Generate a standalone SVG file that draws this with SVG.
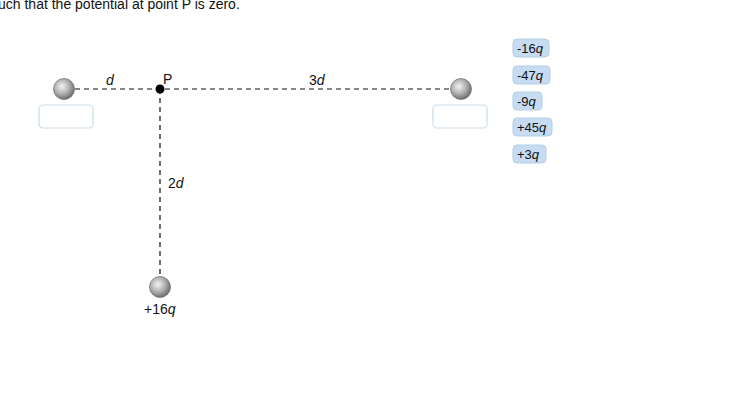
<svg xmlns="http://www.w3.org/2000/svg" width="756" height="408" viewBox="0 0 756 408">
<style>
text{font-family:"Liberation Sans",Arial,sans-serif;font-size:14px;fill:#111}
.d{stroke:#111;stroke-width:1.2;stroke-dasharray:5,4;fill:none}
.box{fill:#fff;stroke:#c9dcea;stroke-width:1.2}
.chip{fill:#c7dcf2;stroke:#b3cde8}
.ball{fill:url(#g);stroke:#777;stroke-width:0.8}
</style>
<defs><radialGradient id="g" cx="0.4" cy="0.38" r="0.65"><stop offset="0" stop-color="#f4f4f4"/><stop offset="0.6" stop-color="#a8a8a8"/><stop offset="1" stop-color="#666"/></radialGradient></defs>
<rect width="756" height="408" fill="#fff"/>
<text x="-2" y="9">uch that the potential at point P is zero.</text>
<g id="connectors">
<line class="d" x1="75" y1="89" x2="450" y2="89"/>
<line class="d" x1="160" y1="89" x2="160" y2="276"/>
</g>
<text x="106" y="85"><tspan font-style="italic">d</tspan></text>
<text x="309" y="85">3<tspan font-style="italic">d</tspan></text>
<text x="168" y="188">2<tspan font-style="italic">d</tspan></text>
<g id="P"><circle cx="160" cy="89" r="4.5" fill="#000"/><text x="163" y="84">P</text></g>
<g id="q1"><circle class="ball" cx="64" cy="89" r="10.5"/><rect class="box" x="39" y="105" width="54" height="23" rx="4"/></g>
<g id="q2"><circle class="ball" cx="461" cy="89" r="10.5"/><rect class="box" x="433" y="105" width="54" height="23" rx="4"/></g>
<g id="q3"><circle class="ball" cx="160" cy="287" r="10.5"/><text x="144" y="314">+16<tspan font-style="italic">q</tspan></text></g>
<g id="chips" font-size="13">
<g id="c1"><rect class="chip" x="513" y="39" width="36" height="18" rx="4"/><text x="517" y="53" style="font-size:13px">-16<tspan font-style="italic">q</tspan></text></g>
<g id="c2"><rect class="chip" x="513" y="66" width="37" height="18" rx="4"/><text x="517" y="80" style="font-size:13px">-47<tspan font-style="italic">q</tspan></text></g>
<g id="c3"><rect class="chip" x="513" y="92" width="29" height="18" rx="4"/><text x="517" y="106" style="font-size:13px">-9<tspan font-style="italic">q</tspan></text></g>
<g id="c4"><rect class="chip" x="513" y="118" width="39" height="18" rx="4"/><text x="517" y="132" style="font-size:13px">+45<tspan font-style="italic">q</tspan></text></g>
<g id="c5"><rect class="chip" x="513" y="145" width="33" height="18" rx="4"/><text x="517" y="159" style="font-size:13px">+3<tspan font-style="italic">q</tspan></text></g>
</g>
</svg>
